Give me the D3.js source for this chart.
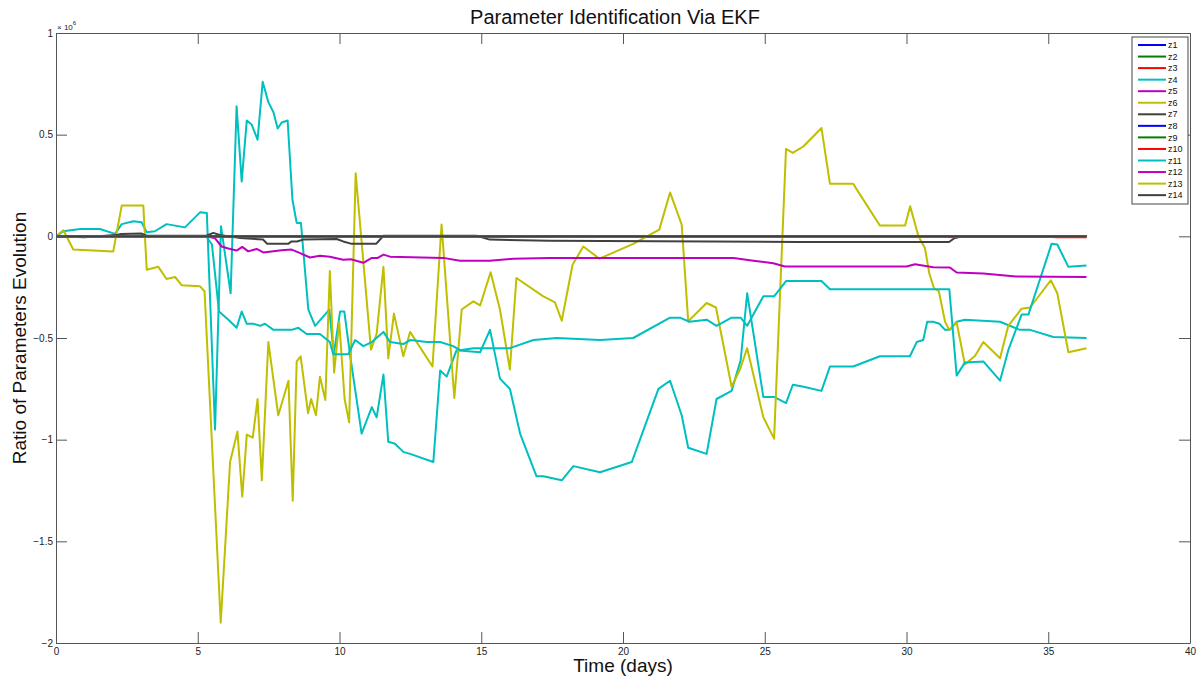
<!DOCTYPE html>
<html>
<head>
<meta charset="utf-8">
<script src="https://cdn.jsdelivr.net/npm/d3@7"></script>
<style>
  body { margin: 0; background: #fff; }
  svg { display: block; font-family: "Liberation Sans", Arial, sans-serif; }
</style>
</head>
<body>
<svg width="1197" height="679"></svg>
<script>
// values are in units of 1e6, time in days
var flat = [[0, 0], [36.35, 0]];

var z4 = [[0,0],[0.26,0.025],[0.85,0.036],[1.55,0.036],[2.08,0.012],[2.32,0.06],[2.73,0.074],[3.02,0.069],[3.2,0.02],[3.49,0.025],[3.9,0.06],[4.55,0.044],[5.08,0.118],[5.32,0.115],[5.61,-0.95],[5.82,0.05],[6.16,-0.28],[6.37,0.64],[6.55,0.27],[6.73,0.57],[6.9,0.55],[7.11,0.475],[7.29,0.76],[7.49,0.66],[7.67,0.61],[7.82,0.53],[7.96,0.56],[8.17,0.57],[8.34,0.18],[8.49,0.066],[8.64,0.066],[8.9,-0.36],[9.14,-0.44],[9.64,-0.36],[9.8,-0.58],[10.02,-0.37],[10.17,-0.37],[10.37,-0.58],[10.78,-0.97],[11.14,-0.84],[11.31,-0.89],[11.55,-0.68],[11.72,-1.01],[11.96,-1.02],[12.25,-1.06],[12.49,-1.07],[13.31,-1.11],[13.55,-0.66],[13.78,-0.69],[14.13,-0.56],[14.96,-0.57],[15.31,-0.46],[15.66,-0.7],[16.01,-0.75],[16.37,-0.97],[16.95,-1.18],[17.19,-1.18],[17.84,-1.2],[18.25,-1.13],[19.19,-1.16],[20.31,-1.11],[21.25,-0.75],[21.66,-0.71],[22.07,-0.88],[22.3,-1.04],[22.95,-1.07],[23.3,-0.8],[23.83,-0.76],[24.15,-0.61],[24.38,-0.28],[24.95,-0.79],[25.33,-0.79],[25.75,-0.82],[25.99,-0.73],[26.37,-0.74],[27.0,-0.76],[27.3,-0.64],[28.12,-0.64],[29.06,-0.59],[30.12,-0.59],[30.36,-0.52],[30.59,-0.51],[30.73,-0.42],[30.94,-0.42],[31.16,-0.43],[31.36,-0.46],[31.53,-0.46],[31.77,-0.42],[32.06,-0.41],[33.3,-0.42],[34.0,-0.46],[34.36,-0.46],[35.18,-0.495],[36.35,-0.5]];

var z11 = [[0,0],[5.3,0],[5.5,-0.04],[5.75,-0.37],[6.08,-0.41],[6.37,-0.45],[6.55,-0.37],[6.73,-0.43],[6.96,-0.43],[7.2,-0.44],[7.37,-0.43],[7.67,-0.46],[8.31,-0.46],[8.55,-0.45],[8.84,-0.48],[9.31,-0.48],[9.66,-0.52],[9.78,-0.58],[10.31,-0.58],[10.55,-0.51],[10.84,-0.54],[11.14,-0.52],[11.55,-0.47],[11.78,-0.52],[12.25,-0.53],[12.49,-0.51],[13.08,-0.52],[13.55,-0.52],[14.01,-0.54],[14.25,-0.56],[14.72,-0.55],[16.01,-0.55],[16.84,-0.51],[17.66,-0.5],[19.19,-0.51],[20.36,-0.5],[21.66,-0.4],[22.01,-0.4],[22.34,-0.42],[22.95,-0.41],[23.3,-0.44],[23.83,-0.4],[24.15,-0.4],[24.38,-0.44],[24.95,-0.295],[25.33,-0.295],[25.75,-0.22],[27.0,-0.22],[27.3,-0.26],[31.51,-0.26],[31.77,-0.685],[32.06,-0.62],[32.71,-0.615],[33.3,-0.71],[33.59,-0.56],[34.06,-0.385],[34.3,-0.385],[35.12,-0.036],[35.32,-0.04],[35.71,-0.15],[36.35,-0.143]];

var z12 = [[0,0],[5.3,0],[5.61,-0.01],[5.84,-0.05],[6.08,-0.06],[6.37,-0.07],[6.57,-0.052],[6.78,-0.074],[7.08,-0.062],[7.31,-0.079],[7.96,-0.069],[8.31,-0.065],[8.55,-0.079],[8.96,-0.104],[9.31,-0.095],[9.66,-0.1],[10.13,-0.115],[10.4,-0.113],[10.84,-0.13],[11.14,-0.106],[11.35,-0.106],[11.55,-0.09],[11.78,-0.1],[13.66,-0.106],[14.25,-0.12],[15.3,-0.12],[16.13,-0.11],[17.42,-0.106],[23.9,-0.106],[24.6,-0.12],[25.3,-0.132],[25.71,-0.148],[30.0,-0.148],[30.3,-0.137],[30.94,-0.152],[31.53,-0.153],[31.77,-0.178],[32.71,-0.183],[33.86,-0.197],[36.35,-0.2]];

var z6 = [[0,0],[0.26,0.03],[0.61,-0.065],[2.02,-0.074],[2.32,0.152],[3.08,0.152],[3.2,-0.164],[3.61,-0.15],[3.9,-0.21],[4.2,-0.2],[4.43,-0.24],[5.08,-0.246],[5.24,-0.27],[5.81,-1.9],[6.14,-1.11],[6.4,-0.96],[6.57,-1.28],[6.73,-0.975],[6.94,-0.99],[7.11,-0.8],[7.26,-1.2],[7.49,-0.52],[7.84,-0.88],[8.2,-0.71],[8.35,-1.3],[8.49,-0.615],[8.63,-0.59],[8.89,-0.87],[9.0,-0.8],[9.17,-0.88],[9.31,-0.69],[9.5,-0.805],[9.66,-0.17],[9.81,-0.67],[9.99,-0.42],[10.18,-0.8],[10.34,-0.915],[10.57,0.31],[11.11,-0.557],[11.31,-0.48],[11.55,-0.15],[11.72,-0.6],[11.92,-0.38],[12.25,-0.59],[12.49,-0.47],[13.28,-0.64],[13.6,0.058],[14.05,-0.795],[14.31,-0.36],[14.72,-0.32],[14.96,-0.34],[15.33,-0.177],[15.66,-0.36],[16.01,-0.655],[16.24,-0.205],[17.19,-0.295],[17.6,-0.325],[17.84,-0.415],[18.22,-0.14],[18.6,-0.05],[19.17,-0.11],[20.36,-0.037],[21.28,0.033],[21.66,0.216],[22.07,0.058],[22.3,-0.418],[22.95,-0.328],[23.28,-0.35],[23.83,-0.74],[24.14,-0.65],[24.38,-0.55],[24.95,-0.89],[25.33,-0.995],[25.75,0.43],[25.99,0.41],[26.37,0.443],[27.0,0.533],[27.3,0.258],[28.12,0.258],[29.06,0.053],[29.95,0.053],[30.13,0.148],[30.42,0],[30.65,-0.057],[30.8,-0.18],[30.97,-0.255],[31.14,-0.27],[31.36,-0.42],[31.51,-0.46],[31.77,-0.424],[32.06,-0.63],[32.42,-0.587],[32.71,-0.52],[33.3,-0.6],[33.59,-0.44],[34.06,-0.356],[34.36,-0.35],[35.09,-0.216],[35.32,-0.28],[35.71,-0.57],[36.35,-0.55]];

var z7 = [[0,0],[1.0,-0.004],[2.1,0.006],[2.3,0.012],[3.0,0.014],[3.2,0.003],[5.3,0.003],[5.55,0.017],[5.8,0.005],[6.1,0],[6.5,-0.008],[7.3,-0.016],[7.45,-0.036],[8.2,-0.036],[8.31,-0.025],[8.5,-0.025],[8.72,-0.016],[9.9,-0.013],[10.13,-0.025],[10.4,-0.036],[11.3,-0.036],[11.55,0.003],[14.84,0.003],[15.3,-0.016],[17.4,-0.022],[26.2,-0.028],[31.5,-0.028],[31.7,-0.008],[32.0,0],[36.35,0]];

var z10 = [[0,0],[31.5,0],[31.6,-0.004],[31.9,-0.002],[35.0,-0.002],[35.3,-0.005],[36.35,-0.005]];

var seriesNames = ["z1", "z2", "z3", "z4", "z5", "z6", "z7", "z8", "z9", "z10", "z11", "z12", "z13", "z14"];
var seriesValues = [flat, flat, flat, z4, flat, z6, z7, flat, flat, z10, z11, z12, flat, flat];
var seriesColors = ["#0000ff", "#008000", "#ff0000", "#00bfbf", "#bf00bf", "#bfbf00", "#404040",
                    "#0000ff", "#008000", "#ff0000", "#00bfbf", "#bf00bf", "#bfbf00", "#404040"];

var xTicks = [0, 5, 10, 15, 20, 25, 30, 35, 40];
var yTicks = [-2, -1.5, -1, -0.5, 0, 0.5, 1];

(function() {
    var svg = d3.select("svg");
    var pLeft = 56, pRight = 1190, pTop = 33, pBottom = 643;

    var x = d3.scaleLinear().domain([0, 40]).range([pLeft, pRight]);
    var y = d3.scaleLinear().domain([-2, 1]).range([pBottom, pTop]);

    svg.append("defs").append("clipPath").attr("id", "plotclip")
        .append("rect")
        .attr("x", pLeft).attr("y", pTop)
        .attr("width", pRight - pLeft).attr("height", pBottom - pTop);

    // lines
    var line = d3.line()
        .x(function(d) { return x(d[0]); })
        .y(function(d) { return y(d[1]); });

    svg.append("g")
        .attr("clip-path", "url(#plotclip)")
        .selectAll("path")
        .data(seriesValues)
        .enter()
        .append("path")
        .attr("d", line)
        .attr("fill", "none")
        .attr("stroke", function(d, i) { return seriesColors[i]; })
        .attr("stroke-width", 2)
        .attr("stroke-linejoin", "round");

    // axes, ticks pointing inward like matlab
    var tickLen = 11;
    var fmtY = function(d) { return d3.format("")(d).replace("-", "\u2212"); };

    var styleAxis = function(g) {
        g.select(".domain").attr("stroke", "#555");
        g.selectAll(".tick line").attr("stroke", "#555");
        g.selectAll(".tick text").attr("fill", "#222").style("font-size", "10px")
            .style("font-family", "'Liberation Sans', Arial, sans-serif");
    };

    svg.append("g").attr("transform", "translate(0," + pBottom + ")")
        .call(d3.axisBottom(x).tickValues(xTicks).tickSizeInner(-tickLen).tickSizeOuter(0).tickPadding(5).tickFormat(d3.format("d")))
        .call(styleAxis);
    svg.append("g").attr("transform", "translate(0," + pTop + ")")
        .call(d3.axisTop(x).tickValues(xTicks).tickSizeInner(-tickLen).tickSizeOuter(0).tickFormat(""))
        .call(styleAxis);
    svg.append("g").attr("transform", "translate(" + pLeft + ",0)")
        .call(d3.axisLeft(y).tickValues(yTicks).tickSizeInner(-tickLen).tickSizeOuter(0).tickPadding(3).tickFormat(fmtY))
        .call(styleAxis);
    svg.append("g").attr("transform", "translate(" + pRight + ",0)")
        .call(d3.axisRight(y).tickValues(yTicks).tickSizeInner(-tickLen).tickSizeOuter(0).tickFormat(""))
        .call(styleAxis);

    // exponent note
    var expo = svg.append("text")
        .attr("x", pLeft + 1).attr("y", 30)
        .attr("fill", "#222")
        .style("font-size", "8px")
        .text("\u00d7 10");
    expo.append("tspan").attr("dy", -5).style("font-size", "6px").text("6");

    // titles
    svg.append("text")
        .attr("x", 615).attr("y", 24)
        .attr("text-anchor", "middle")
        .style("font-size", "20px")
        .attr("fill", "#111")
        .text("Parameter Identification Via EKF");

    svg.append("text")
        .attr("x", (pLeft + pRight) / 2).attr("y", 672)
        .attr("text-anchor", "middle")
        .style("font-size", "19px")
        .attr("fill", "#111")
        .text("Time (days)");

    svg.append("text")
        .attr("transform", "translate(26," + ((pTop + pBottom) / 2) + ") rotate(-90)")
        .attr("text-anchor", "middle")
        .style("font-size", "19px")
        .attr("fill", "#111")
        .text("Ratio of Parameters Evolution");

    // legend
    var legend = svg.append("g");
    var legX = 1132, legY = 37, legRow = 11.55;
    legend.append("rect")
        .attr("x", legX).attr("y", legY)
        .attr("width", 56).attr("height", 167)
        .attr("fill", "#fff").attr("stroke", "#444").attr("stroke-width", 1);

    var rows = legend.selectAll("g.row")
        .data(seriesNames)
        .enter()
        .append("g")
        .attr("class", "row")
        .attr("transform", function(d, i) { return "translate(0," + (legY + 8 + i * legRow) + ")"; });
    rows.append("line")
        .attr("x1", legX + 6).attr("x2", legX + 34)
        .attr("stroke", function(d, i) { return seriesColors[i]; })
        .attr("stroke-width", 2);
    rows.append("text")
        .attr("x", legX + 36).attr("dy", "0.35em")
        .style("font-size", "9px")
        .attr("fill", "#111")
        .text(function(d) { return d; });
})();
</script>
</body>
</html>
